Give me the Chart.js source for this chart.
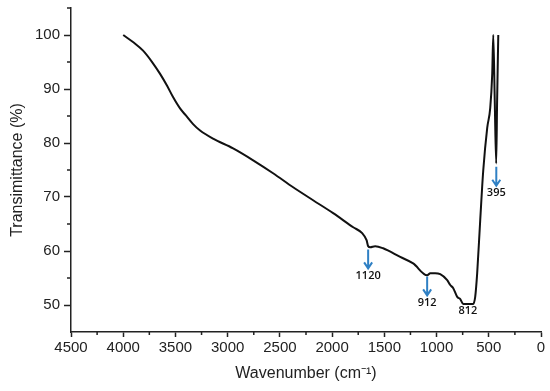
<!DOCTYPE html>
<html>
<head>
<meta charset="utf-8">
<script src="https://cdn.jsdelivr.net/npm/chart.js@4"></script>
<style>
  html, body { margin: 0; padding: 0; background: #fff; }
</style>
</head>
<body>
<canvas id="ftirChart" width="550" height="391"></canvas>
<script>
// FTIR spectrum
const wavenumber = [4000, 3900, 3810, 3720, 3647, 3580, 3523, 3456, 3400, 3331, 3264, 3140, 2948, 2756, 2565, 2373, 2182, 1990, 1798, 1712, 1670, 1655, 1636, 1588, 1511, 1348, 1224, 1090, 1060, 1013, 965, 898, 869, 840, 802, 773, 745, 649, 630, 611, 582, 553, 515, 486, 467, 457, 443, 429, 420, 409];
const transmittance = [100, 98.6, 97.1, 94.9, 92.8, 90.6, 88.5, 86.4, 85.1, 83.5, 82.3, 80.8, 79.0, 76.8, 74.4, 71.8, 69.4, 67.0, 64.4, 63.3, 62.0, 60.9, 60.7, 60.9, 60.5, 58.9, 57.7, 55.5, 55.9, 55.9, 55.7, 54.6, 53.7, 53.1, 51.5, 51.1, 50.2, 50.2, 51.5, 55.9, 65.7, 74.9, 82.8, 86.5, 92.8, 100, 88, 76.2, 88, 100];

const xTicks = [4500, 4000, 3500, 3000, 2500, 2000, 1500, 1000, 500, 0];
const yTicks = [50, 60, 70, 80, 90, 100];

// marked bands
const peakWavenumber = [1655, 1090, 700, 428];
const peakValue = [60.3, 55.3, 50.3, 75.6];
const peakLabel = ['1120', '912', '812', '395'];
const peakArrow = [true, true, false, true];

const points = wavenumber.map((w, i) => ({ x: w, y: transmittance[i] }));

const axisColor = '#222';

const extras = {
  id: 'extras',
  afterDraw(chart) {
    const ctx = chart.ctx;
    const xs = chart.scales.x, ys = chart.scales.y;
    ctx.save();
    // minor ticks
    ctx.strokeStyle = axisColor;
    ctx.lineWidth = 1.5;
    ctx.beginPath();
    for (let v = 250; v < 4500; v += 500) {
      const px = xs.getPixelForValue(v);
      ctx.moveTo(px, xs.top);
      ctx.lineTo(px, xs.top + 3);
    }
    for (let v = 55; v <= 105; v += 10) {
      const py = ys.getPixelForValue(v);
      ctx.moveTo(ys.right - 4, py);
      ctx.lineTo(ys.right, py);
    }
    ctx.stroke();

    // arrows and labels
    ctx.font = '600 11px "Open Sans"';
    ctx.textAlign = 'center';
    ctx.textBaseline = 'top';
    for (let i = 0; i < peakLabel.length; i++) {
      const px = xs.getPixelForValue(peakWavenumber[i]);
      let py = ys.getPixelForValue(peakValue[i]);
      if (peakArrow[i]) {
        const tip = py + 19;
        ctx.strokeStyle = '#2f80c4';
        ctx.lineWidth = 2;
        ctx.beginPath();
        ctx.moveTo(px, py);
        ctx.lineTo(px, tip);
        ctx.moveTo(px - 4, tip - 6);
        ctx.lineTo(px, tip);
        ctx.lineTo(px + 4, tip - 6);
        ctx.stroke();
        py = tip + 2;
      } else {
        py = py + 2;
      }
      ctx.fillStyle = '#111';
      ctx.fillText(peakLabel[i], px, py);
    }
    ctx.restore();
  }
};

new Chart(document.getElementById('ftirChart'), {
  type: 'line',
  data: {
    datasets: [{
      data: points,
      borderColor: '#111',
      borderWidth: 2,
      pointRadius: 0,
      cubicInterpolationMode: 'monotone',
      fill: false
    }]
  },
  options: {
    responsive: false,
    animation: false,
    layout: { padding: { left: 8, right: 9, top: 8, bottom: 8 } },
    plugins: {
      legend: { display: false },
      tooltip: { enabled: false }
    },
    scales: {
      x: {
        type: 'linear',
        reverse: true,
        min: 0,
        max: 4500,
        afterFit: (s) => { s.height = 51; s.paddingLeft = 0; s.paddingRight = 0; },
        afterBuildTicks: (s) => { s.ticks = xTicks.map(v => ({ value: v })); },
        ticks: {
          color: axisColor,
          font: { family: 'Liberation Sans', size: 15 },
          padding: 2,
          maxRotation: 0,
          autoSkip: false,
          callback: (v) => String(v)
        },
        grid: { drawOnChartArea: false, tickLength: 5, tickColor: axisColor, tickWidth: 1.5 },
        border: { color: axisColor, width: 1.5 },
        title: {
          display: true,
          text: 'Wavenumber (cm\u207B\u00B9)',
          color: axisColor,
          font: { family: 'Liberation Sans', size: 16 },
          padding: 0
        }
      },
      y: {
        min: 45,
        max: 105,
        afterFit: (s) => { s.width = 63; s.paddingTop = 0; s.paddingBottom = 0; },
        afterBuildTicks: (s) => { s.ticks = yTicks.map(v => ({ value: v })); },
        ticks: {
          color: axisColor,
          font: { family: 'Liberation Sans', size: 15 },
          padding: 4,
          autoSkip: false
        },
        grid: { drawOnChartArea: false, tickLength: 7, tickColor: axisColor, tickWidth: 1.5 },
        border: { color: axisColor, width: 1.5 },
        title: {
          display: true,
          text: 'Transimittance (%)',
          color: axisColor,
          font: { family: 'Liberation Sans', size: 16 },
          padding: 0
        }
      }
    }
  },
  plugins: [extras]
});
</script>
</body>
</html>
